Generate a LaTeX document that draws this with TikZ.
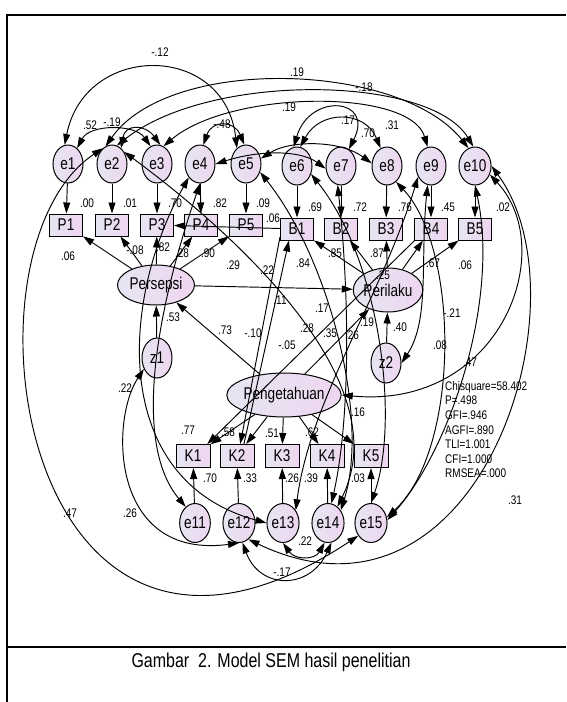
\documentclass[tikz,border=0pt]{standalone}
\usepackage{fontspec}
\setmainfont{Liberation Sans}[FakeStretch=0.8]
\usetikzlibrary{shapes.geometric,arrows.meta}
\definecolor{lavL}{RGB}{230,229,242}
\definecolor{lavR}{RGB}{238,214,240}
\newcommand\nodefnt{\fontsize{17}{17}\selectfont}
\newcommand\lblfnt{\fontsize{12.5}{13}\selectfont}
\newcommand\fitfnt{\fontsize{12.5}{14.6}\selectfont}
\begin{document}
\begin{tikzpicture}[x=1pt,y=-1pt,
  lat/.style={ellipse, draw, line width=1pt, left color=lavL, right color=lavR, inner sep=0pt, font=\nodefnt},
  err/.style={lat, minimum width=30pt, minimum height=38pt},
  obs/.style={rectangle, draw, line width=1pt, left color=lavL, right color=lavR, minimum width=33pt, minimum height=22pt, inner sep=0pt, font=\nodefnt},
  arr/.style={line width=0.95pt, -{Triangle[length=11pt,width=7pt]}},
  cov/.style={line width=0.95pt, {Triangle[length=11pt,width=7pt]}-{Triangle[length=11pt,width=7pt]}},
  lbl/.style={font=\lblfnt, inner sep=0pt}]
\useasboundingbox (0,0) rectangle (566,702);
\fill[white] (0,0) rectangle (566,702);
% frame
\draw[line width=1.4pt] (7,702) -- (7,15) -- (566,15);
\draw[line width=1.4pt] (7,647) -- (566,647);
% error nodes top
\node[err] (e1) at (68,164) {e1};
\node[err] (e2) at (112,164) {e2};
\node[err] (e3) at (157,164) {e3};
\node[err] (e4) at (200,164) {e4};
\node[err] (e5) at (246,164) {e5};
\node[err] (e6) at (297,166) {e6};
\node[err] (e7) at (341,166) {e7};
\node[err] (e8) at (387,166) {e8};
\node[err] (e9) at (431,166) {e9};
\node[err] (e10) at (475,166) {e10};
% observed
\node[obs] (P1) at (66,225) {P1};
\node[obs] (P2) at (112,225) {P2};
\node[obs] (P3) at (157,225) {P3};
\node[obs] (P4) at (201,225) {P4};
\node[obs] (P5) at (246,225) {P5};
\node[obs] (B1) at (297,229) {B1};
\node[obs] (B2) at (341,229) {B2};
\node[obs] (B3) at (386,229) {B3};
\node[obs] (B4) at (431,229) {B4};
\node[obs] (B5) at (475,229) {B5};
% latent
\node[lat, minimum width=77pt, minimum height=40pt] (Pers) at (156,285) {Persepsi};
\node[lat, minimum width=69pt, minimum height=44pt] (Peri) at (388,290) {Perilaku};
\node[lat, minimum width=92pt, minimum height=44pt] (Peng) at (284,395) {Pengetahuan};
\node[err, minimum height=40pt] (z1) at (157,358) {z1};
\node[err, minimum height=40pt] (z2) at (386,363) {z2};
% K boxes and errors
\node[obs, minimum width=34pt, minimum height=23pt] (K1) at (193,456) {K1};
\node[obs, minimum width=34pt, minimum height=23pt] (K2) at (237,456) {K2};
\node[obs, minimum width=34pt, minimum height=23pt] (K3) at (282,456) {K3};
\node[obs, minimum width=34pt, minimum height=23pt] (K4) at (327,456) {K4};
\node[obs, minimum width=34pt, minimum height=23pt] (K5) at (371,456) {K5};
\node[err, minimum height=39pt] (e11) at (195,523) {e11};
\node[err, minimum height=39pt] (e12) at (239,523) {e12};
\node[err, minimum height=39pt] (e13) at (283,523) {e13};
\node[err, minimum height=39pt] (e14) at (328,523) {e14};
\node[err, minimum height=39pt] (e15) at (371,523) {e15};
% measurement paths
\foreach \i in {1,...,5} {\draw[arr] (e\i) -- (P\i); \draw[arr] (Pers) -- (P\i); \draw[arr] (Peri) -- (B\i); \draw[arr] (Peng) -- (K\i);}
\foreach \i/\j in {6/1,7/2,8/3,9/4,10/5} \draw[arr] (e\i) -- (B\j);
\foreach \i/\j in {11/1,12/2,13/3,14/4,15/5} \draw[arr] (e\i) -- (K\j);
% structural
\draw[arr] (z1) -- (Pers);
\draw[arr] (z2) -- (Peri);
\draw[arr] (Pers) -- (Peri);
\draw[arr] (Peng) -- (Pers);
\draw[arr] (Peng) -- (Peri);
\draw[arr] (B1) -- (P3);
\draw[arr] (B1.205) -- (K2.75);
\draw[arr] (K2.60) -- (B1.235);
\draw[arr] (B4.215) -- (K1.40);
% covariances top
\draw[cov] (e1.100) .. controls (85,42) and (225,42) .. (e5.120);
\draw[cov] (e1.60) .. controls (90,124) and (135,124) .. (e3.110);
\draw[cov] (e2.60) .. controls (125,124) and (145,124) .. (e3.80);
\draw[cov] (e4.80) .. controls (212,120) and (234,120) .. (e5.95);
\draw[cov] (e2.110) .. controls (170,55) and (400,62) .. (e10.110);
\draw[cov] (e2.75) .. controls (210,72) and (430,75) .. (e10.95);
\draw[cov] (e3.70) .. controls (230,90) and (410,88) .. (e9.100);
\draw[cov] (e6.80) .. controls (320,110) and (365,110) .. (e8.110);
\draw[cov] (e6.100) .. controls (310,92) and (375,98) .. (e7.65);
\draw[cov] (e5.20) .. controls (290,140) and (340,140) .. (e8.170);
\draw[cov] (e4.0) .. controls (260,150) and (300,150) .. (e7.190);
% covariances middle and lower
\draw[cov] (e2.45) .. controls (230,230) and (400,380) .. (e14.60);
\draw[cov] (e4.230) .. controls (120,300) and (110,480) .. (e13.180);
\draw[cov] (z1.220) .. controls (110,420) and (110,560) .. (e12.270);
\draw[cov] (e4.270) .. controls (160,300) and (130,440) .. (e11.120);
\draw[cov] (e5.330) .. controls (330,260) and (370,420) .. (e14.45);
\draw[cov] (e7.260) .. controls (350,300) and (350,420) .. (e14.80);
\draw[cov] (e9.220) .. controls (380,300) and (310,400) .. (e13.45);
\draw[cov] (e6.330) .. controls (380,260) and (400,420) .. (e15.90);
\draw[cov] (e9.260) .. controls (420,260) and (430,320) .. (z2.0);
\draw[cov] (e10.270) .. controls (500,300) and (450,450) .. (e15.10);
\draw[cov] (e8.300) .. controls (460,250) and (460,450) .. (e15.20);
\draw[cov] (e10.330) .. controls (560,250) and (500,410) .. (Peng.0);
\draw[cov] (e10.0) .. controls (590,300) and (480,650) .. (e12.300);
\draw[cov] (e2.120) .. controls (-50,250) and (20,760) .. (e15.225);
\draw[cov] (e13.270) .. controls (295,560) and (315,560) .. (e14.260);
\draw[cov] (e12.280) .. controls (260,590) and (310,590) .. (e14.280);
% labels
\node[lbl] (l1) at (160,52) {-.12};
\node[lbl] (l2) at (297,72) {.19};
\node[lbl] (l3) at (364,87) {-.18};
\node[lbl] (l4) at (289,107) {.19};
\node[lbl] (l5) at (90,125) {.52};
\node[lbl] (l6) at (112,122) {-.19};
\node[lbl] (l7) at (222,124) {-.48};
\node[lbl] (l8) at (348,120) {.17};
\node[lbl] (l9) at (368,133) {.70};
\node[lbl] (l10) at (392,125) {.31};
\node[lbl] (l11) at (87,203) {.00};
\node[lbl] (l12) at (130,203) {.01};
\node[lbl] (l13) at (175,203) {.70};
\node[lbl] (l14) at (220,203) {.82};
\node[lbl] (l15) at (263,203) {.09};
\node[lbl] (l16) at (315,207) {.69};
\node[lbl] (l17) at (360,207) {.72};
\node[lbl] (l18) at (405,207) {.76};
\node[lbl] (l19) at (448,207) {.45};
\node[lbl] (l20) at (503,207) {.02};
\node[lbl] (l21) at (273,218) {.06};
\node[lbl] (l22) at (68,256) {.06};
\node[lbl] (l23) at (135,250) {-.08};
\node[lbl] (l24) at (163,247) {.82};
\node[lbl] (l25) at (182,253) {.28};
\node[lbl] (l26) at (208,253) {.90};
\node[lbl] (l27) at (233,265) {.29};
\node[lbl] (l28) at (267,270) {.22};
\node[lbl] (l29) at (303,263) {.84};
\node[lbl] (l30) at (335,253) {.85};
\node[lbl] (l31) at (377,253) {.87};
\node[lbl] (l32) at (433,263) {.67};
\node[lbl] (l33) at (465,265) {.06};
\node[lbl] (l34) at (383,275) {.25};
\node[lbl] (l35) at (280,300) {.11};
\node[lbl] (l36) at (173,317) {.53};
\node[lbl] (l37) at (225,330) {.73};
\node[lbl] (l38) at (253,333) {-.10};
\node[lbl] (l39) at (287,345) {-.05};
\node[lbl] (l40) at (322,308) {.17};
\node[lbl] (l41) at (307,328) {.28};
\node[lbl] (l42) at (330,333) {.35};
\node[lbl] (l43) at (352,335) {.26};
\node[lbl] (l44) at (367,322) {.19};
\node[lbl] (l45) at (400,327) {.40};
\node[lbl] (l46) at (452,313) {-.21};
\node[lbl] (l47) at (440,345) {.08};
\node[lbl] (l48) at (470,362) {.47};
\node[lbl] (l49) at (125,388) {.22};
\node[lbl] (l50) at (358,412) {.16};
\node[lbl] (l51) at (188,430) {.77};
\node[lbl] (l52) at (228,432) {.58};
\node[lbl] (l53) at (272,433) {.51};
\node[lbl] (l54) at (312,432) {.62};
\node[lbl] (l55) at (210,478) {.70};
\node[lbl] (l56) at (250,478) {.33};
\node[lbl] (l57) at (292,478) {.26};
\node[lbl] (l58) at (311,478) {.39};
\node[lbl] (l59) at (358,478) {.03};
\node[lbl] (l60) at (70,513) {.47};
\node[lbl] (l61) at (130,513) {.26};
\node[lbl] (l62) at (305,541) {.22};
\node[lbl] (l63) at (282,572) {-.17};
\node[lbl] (l64) at (515,500) {.31};
\node[anchor=north west, align=left, inner sep=0pt, font=\fitfnt] (fit) at (445,381) {Chisquare=58.402\\P=.498\\GFI=.946\\AGFI=.890\\TLI=1.001\\CFI=1.000\\RMSEA=.000};
\node[inner sep=0pt, font=\fontsize{20}{20}\selectfont] (cap) at (271,662) {Gambar\ \ 2. Model SEM hasil penelitian};
\end{tikzpicture}
\end{document}
